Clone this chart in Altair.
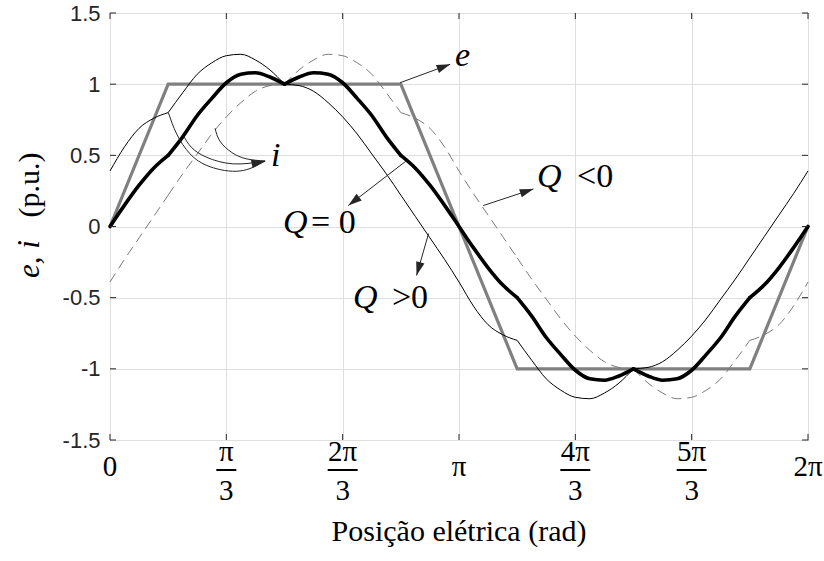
import math
import altair as alt
import pandas as pd

# ---------------- data (x in electrical degrees, y in p.u.) ----------------
deg = [0, 7.5, 15, 22.5, 30, 37.5, 45, 52.5, 60, 67.5, 75, 82.5, 90, 97.5, 105,
       112.5, 120, 127.5, 135, 142.5, 150, 157.5, 165, 172.5, 180, 187.5, 195,
       202.5, 210, 217.5, 225, 232.5, 240, 247.5, 255, 262.5, 270, 277.5, 285,
       292.5, 300, 307.5, 315, 322.5, 330, 337.5, 345, 352.5, 360]

# current, Q = 0 (thick black)
i_q0 = [0, 0.15, 0.29, 0.41, 0.50, 0.63, 0.78, 0.90, 1.01, 1.07, 1.08, 1.05, 1.00,
        1.05, 1.08, 1.07, 1.01, 0.90, 0.78, 0.63, 0.50, 0.41, 0.29, 0.15, 0,
        -0.15, -0.29, -0.41, -0.50, -0.63, -0.78, -0.90, -1.01, -1.07, -1.08, -1.05,
        -1.00, -1.05, -1.08, -1.07, -1.01, -0.90, -0.78, -0.63, -0.50, -0.41, -0.29,
        -0.15, 0]

# current, Q > 0 (thin black)
i_qpos = [0.39, 0.56, 0.69, 0.76, 0.80, 0.94, 1.07, 1.15, 1.20, 1.21, 1.17, 1.10, 1.00,
          0.99, 0.95, 0.87, 0.77, 0.65, 0.51, 0.37, 0.22, 0.07, -0.08, -0.23, -0.39,
          -0.56, -0.69, -0.76, -0.80, -0.94, -1.07, -1.15, -1.20, -1.21, -1.17, -1.10,
          -1.00, -0.99, -0.95, -0.87, -0.77, -0.65, -0.51, -0.37, -0.22, -0.07, 0.08,
          0.23, 0.39]

# current, Q < 0 (grey dashed)
i_qneg = [-0.39, -0.23, -0.08, 0.07, 0.22, 0.37, 0.51, 0.65, 0.77, 0.87, 0.95, 0.99, 1.00,
          1.10, 1.17, 1.21, 1.20, 1.15, 1.07, 0.94, 0.80, 0.76, 0.69, 0.56, 0.39,
          0.23, 0.08, -0.07, -0.22, -0.37, -0.51, -0.65, -0.77, -0.87, -0.95, -0.99,
          -1.00, -1.10, -1.17, -1.21, -1.20, -1.15, -1.07, -0.94, -0.80, -0.76, -0.69,
          -0.56, -0.39]

# back-EMF trapezoid
e_deg = [0, 30, 150, 210, 330, 360]
e_val = [0, 1, 1, -1, -1, 0]

# commutation points (kinks) used to split the smooth segments
kinks = [0, 30, 90, 150, 210, 270, 330, 360]

# axis ticks
x_ticks = [0, 60, 120, 180, 240, 300, 360]
y_ticks = [-1.5, -1, -0.5, 0, 0.5, 1, 1.5]
single_pos = [0, 180, 360]
single_lab = ["0", "π", "2π"]
frac_pos = [60, 120, 240, 300]
frac_num = ["π", "2π", "4π", "5π"]
frac_den = ["3", "3", "3", "3"]
frac_wide = [False, True, True, True]

# straight annotation arrows (from -> to)
arr_x1 = [149.6, 153.0, 164.3, 192.5]
arr_y1 = [1.01, 0.463, -0.05, 0.147]
arr_x2 = [175.5, 122.9, 158.1, 218.4]
arr_y2 = [1.14, 0.147, -0.344, 0.264]

# curved arrows pointing to "i"
ca_x = [30.1, 34.4, 41.3, 51.6, 67.0, 80.0]
ca_y = [0.80, 0.65, 0.51, 0.42, 0.39, 0.46]
cb_x = [37.8, 42.0, 49.9, 63.6, 80.0]
cb_y = [0.64, 0.556, 0.486, 0.44, 0.46]
cc_x = [54.2, 56.7, 62.8, 70.5, 80.0]
cc_y = [0.69, 0.60, 0.52, 0.475, 0.46]

# annotation texts
ann_txt = ["e", "i", "Q", "= 0", "Q", ">0", "Q", "<0"]
ann_x = [177.9, 83.0, 89.2, 103.7, 125.3, 145.4, 220.2, 240.9]
ann_y = [1.131, 0.425, -0.046, -0.046, -0.573, -0.573, 0.278, 0.278]
ann_italic = [True, True, True, False, True, False, True, False]

# ---------------- layout ----------------
W, H = 698, 427
SX, SY = W / 360.0, H / 3.0
INK = "#262626"

xscale = alt.Scale(domain=[0, 360], nice=False, zero=False)
yscale = alt.Scale(domain=[-1.5, 1.5], nice=False, zero=False)
xaxis = alt.Axis(values=x_ticks, labels=False, ticks=False, domain=False, grid=True,
                 gridColor="#dfdfdf", gridWidth=1, title=None)
yaxis = alt.Axis(values=y_ticks, labelExpr="replace(format(datum.value, '~g'), '\u2212', '-')",
                 labelFont="Liberation Sans", labelFontSize=22, labelColor=INK,
                 labelPadding=10, ticks=False, domain=False, grid=True,
                 gridColor="#dfdfdf", gridWidth=1, title=None)


def X(f="x"):
    return alt.X(f"{f}:Q", scale=xscale, axis=xaxis)


def Y(f="y"):
    return alt.Y(f"{f}:Q", scale=yscale, axis=yaxis)


# curves split into smooth segments between kinks
def seg_df(vals, name):
    rows = []
    for s in range(len(kinks) - 1):
        a, b = kinks[s], kinks[s + 1]
        for d, v in zip(deg, vals):
            if a <= d <= b:
                rows.append({"x": d, "y": v, "seg": f"{name}{s}"})
    return pd.DataFrame(rows)


df_e = pd.DataFrame({"x": e_deg, "y": e_val})
e_line = alt.Chart(df_e).mark_line(color="#808080", strokeWidth=3.2).encode(x=X(), y=Y())

dashed = alt.Chart(seg_df(i_qneg, "n")).mark_line(
    color="#7a7a7a", strokeWidth=1, strokeDash=[10, 6], interpolate="monotone"
).encode(x=X(), y=Y(), detail="seg:N")

thin = alt.Chart(seg_df(i_qpos, "p")).mark_line(
    color="#000000", strokeWidth=1, interpolate="monotone"
).encode(x=X(), y=Y(), detail="seg:N")

thick = alt.Chart(seg_df(i_q0, "z")).mark_line(
    color="#000000", strokeWidth=3.6, interpolate="monotone", strokeCap="round"
).encode(x=X(), y=Y(), detail="seg:N")

# inward ticks on all four sides
df_xt = pd.DataFrame({"x": x_ticks})
df_yt = pd.DataFrame({"y": y_ticks})
tick_len = 6
ticks = [
    alt.Chart(df_xt).mark_rule(color=INK, strokeWidth=1).encode(x=X(), y=alt.value(H), y2=alt.value(H - tick_len)),
    alt.Chart(df_xt).mark_rule(color=INK, strokeWidth=1).encode(x=X(), y=alt.value(0), y2=alt.value(tick_len)),
    alt.Chart(df_yt).mark_rule(color=INK, strokeWidth=1).encode(y=Y(), x=alt.value(0), x2=alt.value(tick_len)),
    alt.Chart(df_yt).mark_rule(color=INK, strokeWidth=1).encode(y=Y(), x=alt.value(W), x2=alt.value(W - tick_len)),
]

# x tick labels (LaTeX-like fractions)
SERIF = "Liberation Serif"
TFS = 29
df_single = pd.DataFrame({"x": single_pos, "t": single_lab})
df_frac = pd.DataFrame({"x": frac_pos, "num": frac_num, "den": frac_den, "wide": frac_wide})
xlabels = [
    alt.Chart(df_single).mark_text(font=SERIF, fontSize=TFS, baseline="alphabetic", color="#000")
    .encode(x=X(), y=alt.value(H + 36), text="t:N"),
    alt.Chart(df_frac).mark_text(font=SERIF, fontSize=TFS, baseline="alphabetic", color="#000")
    .encode(x=X(), y=alt.value(H + 21), text="num:N"),
    alt.Chart(df_frac).mark_text(font=SERIF, fontSize=TFS, baseline="alphabetic", color="#000")
    .encode(x=X(), y=alt.value(H + 60), text="den:N"),
    alt.Chart(df_frac).transform_filter("!datum.wide")
    .mark_rule(color="#000", strokeWidth=2, xOffset=-10, x2Offset=10)
    .encode(x=X(), x2="x:Q", y=alt.value(H + 30)),
    alt.Chart(df_frac).transform_filter("datum.wide")
    .mark_rule(color="#000", strokeWidth=2, xOffset=-15, x2Offset=15)
    .encode(x=X(), x2="x:Q", y=alt.value(H + 30)),
]

# axis titles
dummy = pd.DataFrame({"a": [0]})
titles = [
    alt.Chart(dummy).mark_text(font=SERIF, fontSize=30, color="#000", baseline="alphabetic",
                               text="Posição elétrica (rad)")
    .encode(x=alt.value(W / 2), y=alt.value(H + 101)),
    alt.Chart(dummy).mark_text(font=SERIF, fontSize=31, fontStyle="italic", color="#000",
                               angle=270, baseline="middle", align="center", text="e, i")
    .encode(x=alt.value(-80), y=alt.value(246)),
    alt.Chart(dummy).mark_text(font=SERIF, fontSize=30, color="#000",
                               angle=270, baseline="middle", align="center", text="(p.u.)")
    .encode(x=alt.value(-80), y=alt.value(172)),
]

# straight arrows
df_arr = pd.DataFrame({"x": arr_x1, "y": arr_y1, "x2": arr_x2, "y2": arr_y2})
df_arr["ang"] = [
    math.degrees(math.atan2((b - a) * SX, (d - c) * SY)) % 360
    for a, b, c, d in zip(arr_x1, arr_x2, arr_y1, arr_y2)
]
HEAD = "M0,0L0.75,2.4L-0.75,2.4Z"
HEAD_SIZE = 130
arr_lines = alt.Chart(df_arr).mark_rule(color=INK, strokeWidth=1).encode(
    x=X(), y=Y(), x2="x2:Q", y2="y2:Q")
arr_heads = alt.Chart(df_arr).mark_point(shape=HEAD, filled=True, color=INK, opacity=1,
                                         size=HEAD_SIZE, strokeWidth=0).encode(
    x=X("x2"), y=Y("y2"), angle=alt.Angle("ang:Q", scale=None))

# curved arrows
df_curves = pd.concat([
    pd.DataFrame({"x": ca_x, "y": ca_y, "c": "a"}),
    pd.DataFrame({"x": cb_x, "y": cb_y, "c": "b"}),
    pd.DataFrame({"x": cc_x, "y": cc_y, "c": "c"}),
])
curves = alt.Chart(df_curves).mark_line(color=INK, strokeWidth=1, interpolate="natural").encode(
    x=X(), y=Y(), detail="c:N")
df_ihead = pd.DataFrame({"x": [cb_x[-1]], "y": [cb_y[-1]], "ang": [78]})
ihead = alt.Chart(df_ihead).mark_point(shape=HEAD, filled=True, color=INK, opacity=1,
                                       size=HEAD_SIZE, strokeWidth=0).encode(
    x=X(), y=Y(), angle=alt.Angle("ang:Q", scale=None))

# annotation texts
df_ann = pd.DataFrame({"x": ann_x, "y": ann_y, "t": ann_txt, "it": ann_italic})
ann_it = alt.Chart(df_ann).transform_filter("datum.it").mark_text(
    font=SERIF, fontSize=34, fontStyle="italic", align="left", baseline="alphabetic", color="#000"
).encode(x=X(), y=Y(), text="t:N")
ann_rm = alt.Chart(df_ann).transform_filter("!datum.it").mark_text(
    font=SERIF, fontSize=34, align="left", baseline="alphabetic", color="#000"
).encode(x=X(), y=Y(), text="t:N")

chart = alt.layer(
    e_line, dashed, thin, thick, *ticks, *xlabels, *titles,
    arr_lines, arr_heads, curves, ihead, ann_it, ann_rm
).properties(
    width=W, height=H,
    padding={"left": 110, "top": 13, "right": 16, "bottom": 121},
    autosize=alt.AutoSizeParams(type="none"),
    background="white",
).configure_view(stroke=INK, strokeWidth=1)

chart.save("out.html", embed_options={"renderer": "svg", "actions": False})
